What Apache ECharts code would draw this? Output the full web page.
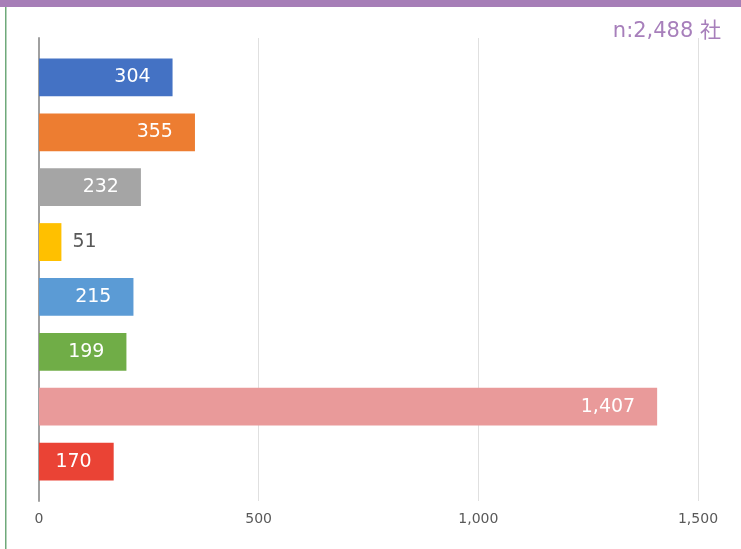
<!DOCTYPE html>
<html>
<head>
<meta charset="utf-8">
<script src="https://cdn.jsdelivr.net/npm/echarts@6/dist/echarts.min.js"></script>
<style>
  html, body { margin: 0; padding: 0; background: #fff; }
  #chart { width: 741px; height: 549px; }
</style>
</head>
<body>
<div id="chart"></div>
<script>
// one bar per category, top to bottom
var categories = ["A", "B", "C", "D", "E", "F", "G", "H"];
var values = [304, 355, 232, 51, 215, 199, 1407, 170];
var colors = ["#4472C4", "#ED7D31", "#A5A5A5", "#FFC000", "#5B9BD5", "#70AD47", "#E99A9A", "#EA4335"];
var xTicks = [0, 500, 1000, 1500];
var totalLabel = "n:2,488 社";

var chart = echarts.init(document.getElementById("chart"));

var barData = values.map(function (v, i) {
  var small = v < 100;
  return {
    value: v,
    itemStyle: { color: colors[i] },
    label: small
      ? { position: "right", distance: 11, color: "#595959" }
      : { position: "insideRight", distance: 22, color: "#fff" }
  };
});

chart.setOption({
  animation: false,
  graphic: [
    { type: "rect", shape: { x: 0, y: 0, width: 741, height: 7 }, style: { fill: "#A67EB7" } },
    { type: "rect", shape: { x: 5, y: 7, width: 1.5, height: 542 }, style: { fill: "#6FA97A" } },
    {
      type: "text", right: 20, top: 21,
      style: { text: totalLabel, fill: "#A77FBB", font: "21px 'DejaVu Sans', 'Noto Sans CJK JP', sans-serif" }
    }
  ],
  grid: [
    { left: 39, right: 43, top: 38, bottom: 48 },
    { left: 39, right: 43, top: 50, bottom: 60 }
  ],
  xAxis: [
    {
      gridIndex: 0, type: "value", min: xTicks[0], max: xTicks[xTicks.length - 1], interval: 500,
      axisLine: { show: false }, axisTick: { show: false },
      splitLine: { lineStyle: { color: "#E0E0E0", width: 1 } },
      axisLabel: {
        color: "#595959", fontSize: 14, margin: 11, fontFamily: "'DejaVu Sans', sans-serif",
        formatter: function (v) { return v.toLocaleString("en-US"); }
      }
    },
    {
      gridIndex: 1, type: "value", min: xTicks[0], max: xTicks[xTicks.length - 1],
      show: false
    }
  ],
  yAxis: [
    {
      gridIndex: 0, type: "value", min: 0, max: 1,
      axisLine: { show: true, lineStyle: { color: "#A0A0A0", width: 2 } },
      axisTick: { show: false }, axisLabel: { show: false }, splitLine: { show: false }
    },
    {
      gridIndex: 1, type: "category", data: categories, inverse: true,
      show: false
    }
  ],
  series: [
    {
      type: "bar",
      xAxisIndex: 1, yAxisIndex: 1,
      data: barData,
      barWidth: "69%",
      label: {
        show: true,
        fontSize: 19,
        fontFamily: "'DejaVu Sans', sans-serif",
        formatter: function (p) { return p.value.toLocaleString("en-US"); }
      }
    }
  ]
});
</script>
</body>
</html>
